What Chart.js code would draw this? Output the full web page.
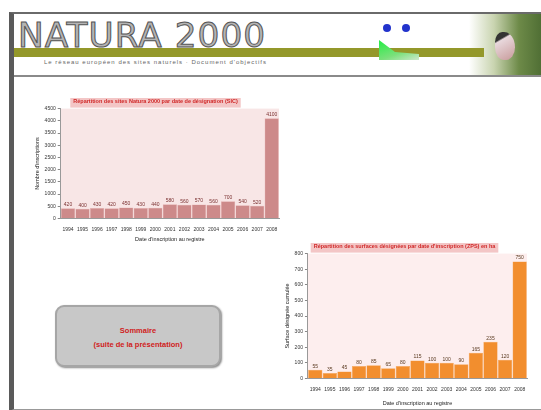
<!DOCTYPE html>
<html lang="fr">
<head>
<meta charset="utf-8">
<title>Natura 2000</title>
<script src="https://cdn.jsdelivr.net/npm/chart.js@4/dist/chart.umd.min.js"></script>
<style>
  html, body { margin: 0; padding: 0; background: #fff; }
  body { width: 541px; height: 410px; position: relative; overflow: hidden; font-family: "Liberation Sans", Arial, sans-serif; }
  #slide { position: absolute; left: 9px; top: 12px; width: 528px; height: 395px; border-left: 5px solid #5a5a5a; border-top: 2px solid #6a6a6a; border-right: 1px solid #aaa; border-bottom: 2px solid #999; }
  #header { position: absolute; left: 0; top: 0; width: 528px; height: 61px; border-bottom: 2px solid #8a8a8a;
    background: linear-gradient(to right, #fff 0px, #fff 455px, #c9d4b0 480px, #6d8a48 505px, #4f6e34 528px); }
  #brand { position: absolute; left: 4px; top: 2px; font-family: "DejaVu Sans", sans-serif; font-size: 33px; color: #b4b4b4;
    -webkit-text-stroke: 1px #555; letter-spacing: 1px; transform: scaleX(1.04); transform-origin: left top; }
  #band { position: absolute; left: 0; top: 34px; width: 470px; height: 9px; background: #94982a; }
  #sub { position: absolute; left: 30px; top: 45px; font-size: 6px; color: #666; letter-spacing: 1px; }
  #logo { position: absolute; left: 363px; top: 10px; width: 44px; height: 40px; }
  .dot { position: absolute; width: 8px; height: 8px; border-radius: 50%; background: #2233cc; }
  #hill { position: absolute; left: 2px; top: 16px; width: 40px; height: 20px; background: linear-gradient(160deg, #22ee44, #7be07b 60%, #cde8cd); clip-path: polygon(0 0, 40% 60%, 100% 70%, 100% 100%, 0 100%); }
  #bird { position: absolute; left: 481px; top: 18px; width: 20px; height: 28px; border-radius: 40% 60% 50% 50%; background: linear-gradient(150deg, #333 0 25%, #e8d8dc 30%, #c89a9a 100%); }
  .box { position: absolute; }
  #btn { position: absolute; left: 41px; top: 291px; width: 166px; height: 62px; border-radius: 9px; background: #c8c8c8; border: 2px solid #a6a6a6;
    box-shadow: 1px 1px 2px #888; text-align: center; color: #d02020; font-weight: bold; font-size: 7.5px; line-height: 14px; padding-top: 17px; box-sizing: border-box; }
</style>
</head>
<body>
<div id="slide">
  <div id="header">
    <div id="band"></div>
    <div id="brand">NATURA 2000</div>
    <div id="sub">Le réseau européen des sites naturels · Document d'objectifs</div>
    <div id="logo">
      <div class="dot" style="left:6px;top:0"></div>
      <div class="dot" style="left:25px;top:0"></div>
      <div id="hill"></div>
    </div>
    <div id="bird"></div>
  </div>
  <div id="btn">Sommaire<br>(suite de la présentation)</div>
</div>
<div class="box" style="left:28px;top:95px;width:255px;height:149px"><canvas id="chart1"></canvas></div>
<div class="box" style="left:278px;top:240px;width:253px;height:168px"><canvas id="chart2"></canvas></div>

<script>
// premier graphique
const labels1 = ["1994", "1995", "1996", "1997", "1998", "1999", "2000", "2001", "2002", "2003", "2004", "2005", "2006", "2007", "2008"];
const values1 = [420, 400, 430, 420, 450, 430, 440, 580, 560, 570, 560, 700, 540, 520, 4100];
const title1 = "Répartition des sites Natura 2000 par date de désignation (SIC)";
const xTitle1 = "Date d'inscription au registre";
const yTitle1 = "Nombre d'inscriptions";

// second graphique
const labels2 = ["1994", "1995", "1996", "1997", "1998", "1999", "2000", "2001", "2002", "2003", "2004", "2005", "2006", "2007", "2008"];
const values2 = [55, 35, 45, 80, 85, 65, 80, 115, 100, 100, 90, 165, 235, 120, 750];
const title2 = "Répartition des surfaces désignées par date d'inscription (ZPS) en ha";
const xTitle2 = "Date d'inscription au registre";
const yTitle2 = "Surface désignée cumulée";

const plotBg = {
    id: "plotBg",
    beforeDraw(chart, args, opts) {
        const a = chart.chartArea;
        const ctx = chart.ctx;
        ctx.save();
        ctx.fillStyle = opts.color;
        ctx.fillRect(a.left, a.top, a.right - a.left, a.bottom - a.top);
        // fond du titre
        const t = chart.titleBlock;
        if (t && opts.titleBg) {
            ctx.font = Chart.helpers.toFont(chart.options.plugins.title.font).string;
            const w = ctx.measureText(chart.options.plugins.title.text).width;
            const cx = (t.left + t.right) / 2;
            ctx.fillStyle = opts.titleBg;
            ctx.fillRect(cx - w / 2 - 3, t.top + 1, w + 6, t.height - 2);
        }
        ctx.restore();
    }
};

const barValues = {
    id: "barValues",
    afterDatasetsDraw(chart, args, opts) {
        const ctx = chart.ctx;
        const meta = chart.getDatasetMeta(0);
        ctx.save();
        ctx.font = "5px 'Liberation Sans'";
        ctx.fillStyle = opts.color;
        ctx.textAlign = "center";
        ctx.textBaseline = "bottom";
        meta.data.forEach((bar, i) => {
            ctx.fillText(chart.data.datasets[0].data[i], bar.x, bar.y - 1);
        });
        ctx.restore();
    }
};

const makeChart = (id, labels, values, opts) => new Chart(document.getElementById(id), {
    type: "bar",
    data: {
        labels: labels,
        datasets: [{
            data: values,
            backgroundColor: opts.bar,
            borderColor: opts.edge,
            borderWidth: 0.5,
            categoryPercentage: 1,
            barPercentage: 0.98
        }]
    },
    options: {
        responsive: true,
        maintainAspectRatio: false,
        animation: false,
        layout: { padding: { left: 4, right: 4, top: 2, bottom: 0 } },
        plugins: {
            legend: { display: false },
            tooltip: { enabled: false },
            title: {
                display: true,
                text: opts.title,
                color: "#d02828",
                font: { size: 5.5, family: "Liberation Sans" },
                padding: { top: 1, bottom: 4 }
            },
            plotBg: { color: opts.bg, titleBg: "#f3c6c6" },
            barValues: { color: opts.valueColor }
        },
        scales: {
            x: {
                grid: { display: false },
                border: { color: "#999" },
                ticks: { color: "#333", font: { size: 5 }, maxRotation: 0, autoSkip: false, padding: 0 },
                title: { display: true, text: opts.xTitle, color: "#222", font: { size: 5.5 }, padding: { top: opts.xGap, bottom: 1 } }
            },
            y: {
                min: 0,
                max: opts.max,
                grid: { drawOnChartArea: false, tickLength: 3, color: "#888" },
                border: { color: "#999" },
                ticks: { stepSize: opts.step, color: "#333", font: { size: 5 }, padding: 2, callback: v => String(v) },
                title: { display: true, text: opts.yTitle, color: "#222", font: { size: 5.5 }, padding: 2 }
            }
        }
    },
    plugins: [plotBg, barValues]
});

window.onload = () => {
    makeChart("chart1", labels1, values1, {
        title: title1, xTitle: xTitle1, yTitle: yTitle1, max: 4500, step: 500, xGap: 4,
        bar: "#cd8a8a", edge: "#e8b4b4", bg: "#f8e6e6", valueColor: "#7a3030"
    });
    makeChart("chart2", labels2, values2, {
        title: title2, xTitle: xTitle2, yTitle: yTitle2, max: 800, step: 100, xGap: 8,
        bar: "#f28e2e", edge: "#f6a85a", bg: "#fdeeee", valueColor: "#5a3a20"
    });
};
</script>
</body>
</html>
